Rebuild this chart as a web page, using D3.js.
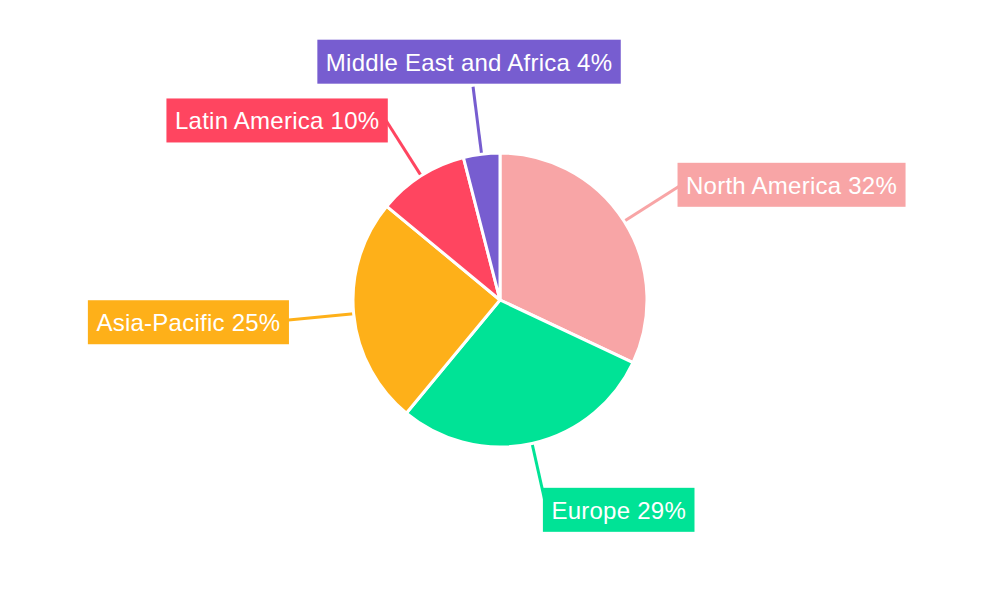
<!DOCTYPE html>
<html>
<head>
<meta charset="utf-8">
<script src="https://cdn.jsdelivr.net/npm/d3@7"></script>
<style>
  body { margin: 0; background: #fff; }
  svg { display: block; }
</style>
</head>
<body>
<svg class="main" width="1000" height="600"></svg>
<script>
// data
var regions = ['North America', 'Europe', 'Asia-Pacific', 'Latin America', 'Middle East and Africa']
var shares = [32, 29, 25, 10, 4]
var colors = ['#F8A5A6', '#00E396', '#FEB019', '#FF4560', '#775DD0']

const width = 1000, height = 600
const cx = 500, cy = 300
const radius = 147
const labelRadius = 215

var svg = d3.select('svg.main')
var body = svg.append('g')
  .attr('transform', `translate(${cx}, ${cy})`)

var data = regions.map((r, i) => ({ region: r, share: shares[i] }))

const color = d3.scaleOrdinal()
  .domain(regions)
  .range(colors)

var pie = d3.pie()
  .value(d => d.share)
  .sort(null)
var arcs = pie(data)

var arc = d3.arc().innerRadius(0).outerRadius(radius)
var edgeArc = d3.arc().innerRadius(radius).outerRadius(radius)
var outerArc = d3.arc().innerRadius(labelRadius).outerRadius(labelRadius)

// leader lines first, so slices and boxes sit on top
body.selectAll('line.leader')
  .data(arcs)
  .join('line')
  .attr('class', 'leader')
  .attr('x1', d => edgeArc.centroid(d)[0])
  .attr('y1', d => edgeArc.centroid(d)[1])
  .attr('x2', d => outerArc.centroid(d)[0])
  .attr('y2', d => outerArc.centroid(d)[1])
  .attr('stroke', d => color(d.data.region))
  .attr('stroke-width', 3)

// slices
body.selectAll('path.slice')
  .data(arcs)
  .join('path')
  .attr('class', 'slice')
  .attr('d', arc)
  .attr('fill', d => color(d.data.region))
  .attr('stroke', '#fff')
  .attr('stroke-width', 3)
  .attr('stroke-linejoin', 'round')

// labels
const padX = 8.5, boxH = 44
var labels = body.selectAll('g.label')
  .data(arcs)
  .join('g')
  .attr('class', 'label')

labels.append('rect')
  .attr('fill', d => color(d.data.region))

labels.append('text')
  .text(d => d.data.region + ' ' + d.data.share + '%')
  .attr('fill', '#fff')
  .attr('font-family', '"Liberation Sans", Arial, sans-serif')
  .attr('font-size', 24)
  .attr('letter-spacing', 0.25)

labels.each(function(d) {
  var g = d3.select(this)
  var textW = g.select('text').node().getComputedTextLength()
  var boxW = textW + padX * 2
  var p = outerArc.centroid(d)
  var mid = (d.startAngle + d.endAngle) / 2
  var s = Math.sin(mid)
  var x0, y0
  if (Math.abs(s) < 0.2) {
    // near top or bottom: box centred over the end of the line
    x0 = p[0] - boxW / 2 - 4
    y0 = Math.cos(mid) > 0 ? p[1] - boxH - 3 : p[1] + 3
  } else if (s > 0) {
    x0 = p[0] - 4
    y0 = p[1] - boxH / 2
  } else {
    x0 = p[0] - boxW + 3
    y0 = p[1] - boxH / 2 + 2
  }
  g.select('rect')
    .attr('x', x0).attr('y', y0)
    .attr('width', boxW).attr('height', boxH)
  g.select('text')
    .attr('x', x0 + padX)
    .attr('y', y0 + boxH / 2)
    .attr('dy', '0.37em')
})
</script>
</body>
</html>
